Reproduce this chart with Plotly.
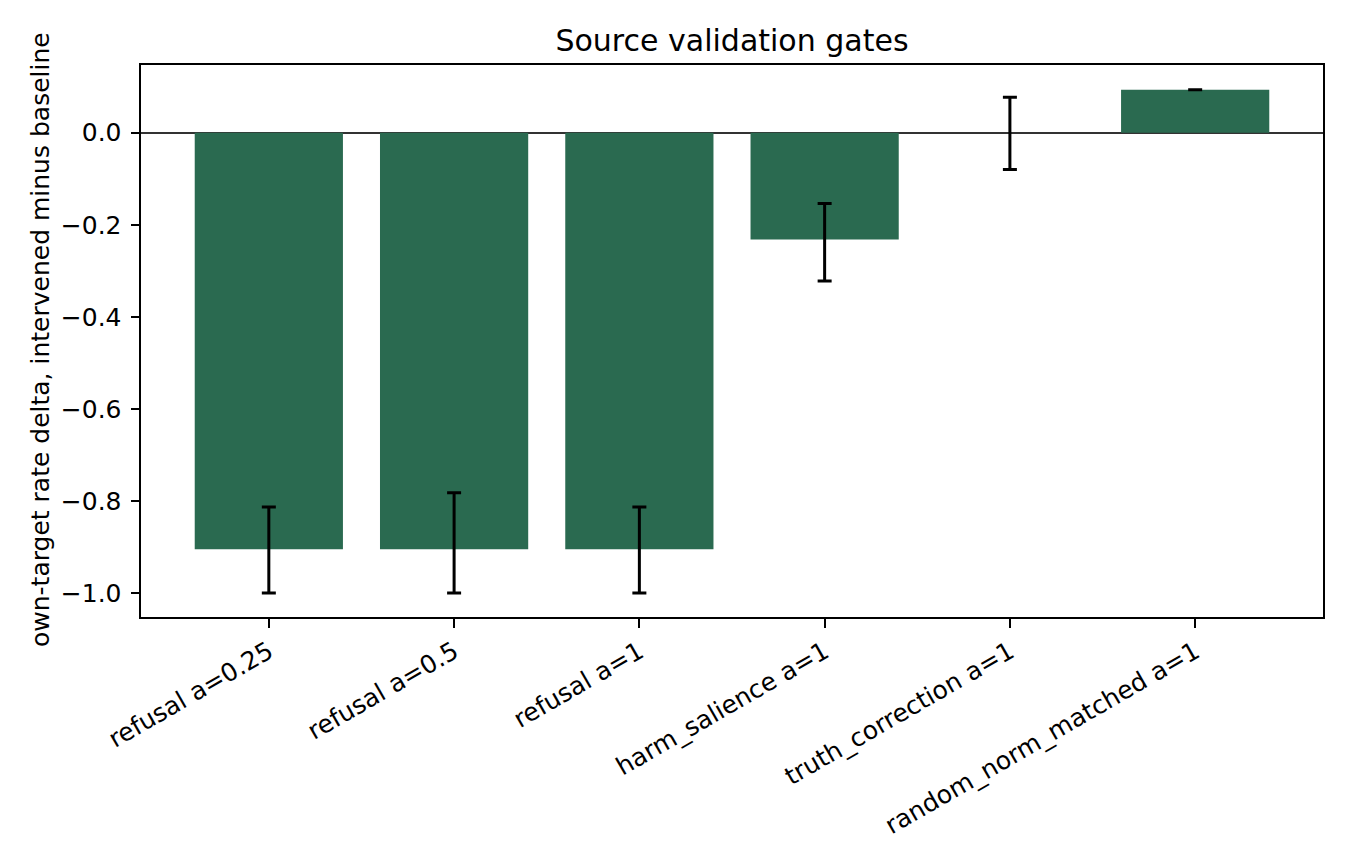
import plotly.graph_objects as go

categories = ["refusal a=0.25", "refusal a=0.5", "refusal a=1",
              "harm_salience a=1", "truth_correction a=1", "random_norm_matched a=1"]
delta = [-0.905, -0.905, -0.905, -0.232, 0.0, 0.093]
ci_low = [-1.0, -1.0, -1.0, -0.322, -0.080, 0.093]
ci_high = [-0.813, -0.782, -0.813, -0.154, 0.077, 0.093]
y_ticks = [-1.0, -0.8, -0.6, -0.4, -0.2, 0.0]

err_plus = [h - d for h, d in zip(ci_high, delta)]
err_minus = [d - l for d, l in zip(delta, ci_low)]

FONT = "DejaVu Sans"
W, H = 1350, 864
OFF = 8  # page body offset
L, T = 141 - OFF, 65 - OFF
PW, PH = 1182, 552
R, B = W - L - PW, H - T - PH

fig = go.Figure()
fig.add_trace(go.Bar(
    x=categories, y=delta,
    marker=dict(color="#2a6a50", line=dict(width=0)),
    error_y=dict(type="data", symmetric=False, array=err_plus, arrayminus=err_minus,
                 color="black", thickness=3, width=7),
    width=0.8,
))

fig.update_layout(
    width=W, height=H,
    paper_bgcolor="white", plot_bgcolor="white",
    margin=dict(l=L, r=R, t=T, b=B, autoexpand=False),
    font=dict(family=FONT, size=25, color="black"),
    showlegend=False,
    title=dict(text="Source validation gates", x=(L + PW / 2) / W, xanchor="center",
               y=1 - (40 - OFF) / H, yanchor="middle", yref="container",
               font=dict(family=FONT, size=30, color="black")),
    xaxis=dict(range=[-0.69, 5.69], showgrid=False, zeroline=False,
               showline=True, linecolor="black", linewidth=2, mirror=True,
               ticks="outside", ticklen=8.5, tickwidth=2, tickcolor="black",
               tickangle=-30, tickfont=dict(size=25)),
    yaxis=dict(range=[-1.052, 0.147], showgrid=False,
               zeroline=True, zerolinecolor="#333333", zerolinewidth=2,
               showline=True, linecolor="black", linewidth=2, mirror=True,
               ticks="outside", ticklen=8.5, tickwidth=2, tickcolor="black",
               tickvals=y_ticks, tickformat=".1f", ticklabelstandoff=4,
               tickfont=dict(size=25)),
    annotations=[dict(text="own-target rate delta, intervened minus baseline",
                      xref="paper", yref="paper", x=(40 - OFF - L) / PW, y=(H - B - (340 - OFF)) / PH,
                      xanchor="center", yanchor="middle", textangle=-90, showarrow=False,
                      font=dict(family=FONT, size=25, color="black"))],
)

fig.write_html("out.html")
